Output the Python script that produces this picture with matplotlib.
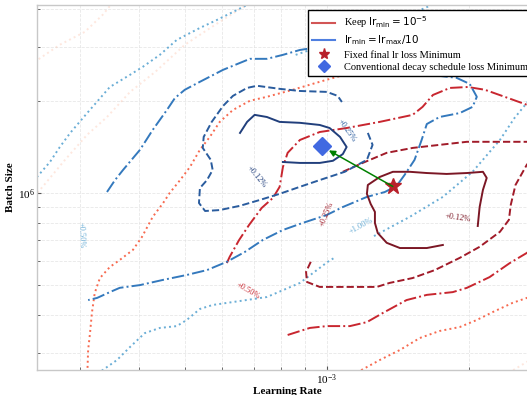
import numpy as np
import matplotlib
matplotlib.use("Agg")
import matplotlib.pyplot as plt
from matplotlib.lines import Line2D
from matplotlib.ticker import LogLocator, NullFormatter

plt.rcParams['font.family'] = ['Liberation Serif', 'DejaVu Serif']
plt.rcParams['mathtext.fontset'] = 'dejavusans'

# Iso-loss contour paths, stored as (log10 lr, log10 batch size)
# lr_min = lr_max/10 schedule (blue)
blue_012_lr = [-3.184, -3.169, -3.153, -3.127, -3.100, -3.057, -3.015, -2.994, -2.972, -2.958, -2.966, -2.987, -3.015, -3.057, -3.093]
blue_012_bs = [6.196, 6.232, 6.255, 6.248, 6.232, 6.229, 6.222, 6.212, 6.183, 6.150, 6.127, 6.105, 6.098, 6.098, 6.101]

blue_025_lr = [-2.913, -2.903, -2.915, -2.962, -3.015, -3.057, -3.100, -3.142, -3.184, -3.227, -3.258, -3.271, -3.269, -3.254,
               -3.242, -3.246, -3.263, -3.261, -3.244, -3.220, -3.199, -3.169, -3.148, -3.100, -3.057, -3.000, -2.977, -2.968]
blue_025_bs = [6.196, 6.157, 6.108, 6.069, 6.042, 6.020, 5.997, 5.977, 5.958, 5.944, 5.941, 5.967, 6.016, 6.042,
               6.075, 6.108, 6.147, 6.183, 6.232, 6.284, 6.317, 6.343, 6.350, 6.340, 6.333, 6.330, 6.317, 6.297]

blue_050_lr = [-3.466, -3.449, -3.432, -3.396, -3.369, -3.339, -3.322, -3.301, -3.269, -3.220, -3.163, -3.127, -3.093, -3.057,
               -3.015, -2.930, -2.845, -2.782, -2.725, -2.697, -2.682, -2.691, -2.718, -2.761, -2.788, -2.799, -2.814, -2.835,
               -2.852, -2.877, -2.915, -2.966, -3.000, -3.051, -3.093, -3.136, -3.174, -3.212, -3.254, -3.297, -3.347, -3.396,
               -3.439, -3.460, -3.487, -3.506]
blue_050_bs = [6.003, 6.042, 6.075, 6.141, 6.206, 6.271, 6.310, 6.337, 6.363, 6.402, 6.438, 6.438, 6.451, 6.467,
               6.477, 6.451, 6.408, 6.386, 6.376, 6.356, 6.314, 6.281, 6.261, 6.248, 6.225, 6.173, 6.108, 6.059,
               6.023, 6.003, 5.987, 5.954, 5.928, 5.902, 5.879, 5.846, 5.807, 5.775, 5.748, 5.732, 5.716, 5.699,
               5.690, 5.676, 5.657, 5.650]

blue_100a_lr = [-3.629, -3.587, -3.566, -3.544, -3.508, -3.460, -3.417, -3.390, -3.354, -3.318, -3.269, -3.233, -3.169, -3.138]
blue_100a_bs = [6.026, 6.101, 6.150, 6.196, 6.261, 6.346, 6.386, 6.412, 6.451, 6.500, 6.539, 6.565, 6.614, 6.641]
blue_100b_lr = [-3.066, -2.972, -2.888, -2.824, -2.778, -2.750]
blue_100b_bs = [6.451, 6.500, 6.546, 6.582, 6.614, 6.637]
blue_100c_lr = [-3.492, -3.481, -3.445, -3.417, -3.386, -3.354, -3.318, -3.297, -3.269, -3.242, -3.184, -3.127, -3.057, -2.998, -2.981]
blue_100c_bs = [5.395, 5.415, 5.454, 5.497, 5.542, 5.559, 5.565, 5.585, 5.621, 5.634, 5.647, 5.660, 5.706, 5.775, 5.791]
blue_100d_lr = [-2.900, -2.888, -2.824, -2.754, -2.691, -2.633, -2.602, -2.576, -2.538]
blue_100d_bs = [5.859, 5.869, 5.922, 5.987, 6.069, 6.173, 6.245, 6.294, 6.363]

# Keep lr_min = 1e-5 schedule (red)
red_012_lr = [-2.680, -2.676, -2.669, -2.661, -2.669, -2.703, -2.746, -2.788, -2.824, -2.860, -2.888, -2.913, -2.915, -2.907,
              -2.898, -2.898, -2.892, -2.873, -2.845, -2.788, -2.754]
red_012_bs = [5.892, 5.954, 6.010, 6.049, 6.069, 6.065, 6.062, 6.065, 6.069, 6.069, 6.052, 6.026, 5.997, 5.964,
              5.938, 5.902, 5.869, 5.837, 5.820, 5.820, 5.830]

red_025a_lr = [-2.966, -2.924, -2.873, -2.818, -2.761, -2.703, -2.648, -2.538]
red_025a_bs = [6.069, 6.098, 6.131, 6.147, 6.157, 6.167, 6.167, 6.167]
red_025b_lr = [-3.034, -3.044, -3.042, -3.015, -2.951, -2.894, -2.867, -2.818, -2.771, -2.718, -2.676, -2.633, -2.614,
               -2.610, -2.600, -2.576, -2.549]
red_025b_bs = [5.775, 5.742, 5.709, 5.693, 5.693, 5.693, 5.706, 5.722, 5.748, 5.788, 5.824, 5.873, 5.912,
               5.961, 6.026, 6.092, 6.141]

red_050a_lr = [-3.212, -3.206, -3.186, -3.165, -3.138, -3.114, -3.100, -3.093, -3.083, -3.057, -3.015, -2.958, -2.888,
               -2.818, -2.797, -2.775, -2.739, -2.701, -2.665, -2.623, -2.576, -2.538]
red_050a_bs = [5.771, 5.791, 5.846, 5.895, 5.951, 5.984, 6.020, 6.085, 6.131, 6.173, 6.199, 6.212, 6.232,
               6.255, 6.281, 6.320, 6.343, 6.346, 6.337, 6.314, 6.288, 6.261]
red_050b_lr = [-3.083, -3.036, -3.000, -2.951, -2.915, -2.881, -2.831, -2.788, -2.733, -2.703, -2.655, -2.612, -2.576, -2.538]
red_050b_bs = [5.536, 5.559, 5.565, 5.565, 5.578, 5.608, 5.650, 5.667, 5.676, 5.690, 5.725, 5.771, 5.804, 5.846]

red_100a_lr = [-3.508, -3.506, -3.502, -3.498, -3.492, -3.481, -3.460, -3.439, -3.411, -3.392, -3.369, -3.347, -3.333,
               -3.311, -3.290, -3.269, -3.248, -3.227, -3.199, -3.163, -3.127, -3.072, -3.015, -2.972, -2.909]
red_100a_bs = [5.395, 5.487, 5.542, 5.608, 5.673, 5.722, 5.758, 5.781, 5.814, 5.856, 5.922, 5.967, 6.000,
               6.042, 6.085, 6.141, 6.183, 6.232, 6.271, 6.301, 6.314, 6.337, 6.363, 6.382, 6.415]
red_100b_lr = [-2.941, -2.926, -2.888, -2.845, -2.803, -2.761, -2.718, -2.682, -2.648, -2.606, -2.576, -2.538]
red_100b_bs = [5.395, 5.422, 5.454, 5.487, 5.526, 5.549, 5.562, 5.585, 5.611, 5.641, 5.657, 5.676]

red_200a_lr = [-3.629, -3.566, -3.513, -3.475, -3.449]
red_200a_bs = [6.418, 6.484, 6.526, 6.582, 6.631]
red_200b_lr = [-3.629, -3.608, -3.555, -3.508, -3.466, -3.417, -3.364, -3.301, -3.237, -3.163]
red_200b_bs = [5.977, 6.010, 6.108, 6.190, 6.248, 6.330, 6.395, 6.484, 6.549, 6.621]
red_200c_lr = [-2.633, -2.576, -2.538]
red_200c_bs = [5.395, 5.448, 5.480]

# Loss minima
star_lr, star_bs = 1.38e-3, 1.05e6
diamond_lr, diamond_bs = 9.75e-4, 1.42e6

blues = {'012': '#213f7c', '025': '#2a5c9e', '050': '#3479bd', '100': '#6baed6'}
reds = {'012': '#7b1725', '025': '#a11b29', '050': '#c8262f', '100': '#f76a50', '200': '#fcbba1'}

fig = plt.figure(figsize=(5.27, 3.95), dpi=100)
ax = fig.add_axes([37 / 527, 25 / 395, 500 / 527, 365 / 395])
ax.set_xscale('log')
ax.set_yscale('log')


def draw(lr, bs, color, ls, alpha=1.0, lw=1.4):
    ax.plot(10 ** np.array(lr), 10 ** np.array(bs), color=color, ls=ls, lw=lw, alpha=alpha)


draw(red_200a_lr, red_200a_bs, reds['200'], ':', alpha=0.35)
draw(red_200b_lr, red_200b_bs, reds['200'], ':', alpha=0.35)
draw(red_200c_lr, red_200c_bs, reds['200'], ':', alpha=0.35)

draw(red_100a_lr, red_100a_bs, reds['100'], ':')
draw(red_100b_lr, red_100b_bs, reds['100'], ':')
draw(blue_100a_lr, blue_100a_bs, blues['100'], ':')
draw(blue_100b_lr, blue_100b_bs, blues['100'], ':')
draw(blue_100c_lr, blue_100c_bs, blues['100'], ':')
draw(blue_100d_lr, blue_100d_bs, blues['100'], ':')

draw(red_050a_lr, red_050a_bs, reds['050'], '-.')
draw(red_050b_lr, red_050b_bs, reds['050'], '-.')
draw(blue_050_lr, blue_050_bs, blues['050'], '-.')

draw(red_025a_lr, red_025a_bs, reds['025'], '--')
draw(red_025b_lr, red_025b_bs, reds['025'], '--')
draw(blue_025_lr, blue_025_bs, blues['025'], '--')

draw(red_012_lr, red_012_bs, reds['012'], '-')
draw(blue_012_lr, blue_012_bs, blues['012'], '-')


# inline contour labels
def clabel(lr, bs, text, color, rot):
    ax.text(lr, bs, text, color=color, fontsize=6, rotation=rot,
            ha='center', va='center', rotation_mode='anchor')


clabel(7.10e-4, 1.13e6, '+0.12%', blues['012'], -50)
clabel(1.10e-3, 1.60e6, '+0.25%', blues['025'], -55)
clabel(3.02e-4, 7.3e5, '+0.50%', blues['100'], -88)
clabel(1.18e-3, 7.8e5, '+1.00%', blues['100'], 29)
clabel(1.90e-3, 8.3e5, '+0.12%', reds['012'], -8)
clabel(1.00e-3, 8.5e5, '+0.25%', reds['025'], 68)
clabel(6.8e-4, 4.8e5, '+0.50%', reds['050'], -30)

ax.plot(star_lr, star_bs, marker='*', color='#b8202a', ms=12, ls='none', zorder=5)
ax.plot(diamond_lr, diamond_bs, marker='D', color='royalblue', ms=9, ls='none', zorder=5)
ax.annotate('', xy=(diamond_lr, diamond_bs), xytext=(star_lr, star_bs),
            arrowprops=dict(arrowstyle='-|>', color='green', lw=1.1, shrinkA=0, shrinkB=6,
                            mutation_scale=9), zorder=6)

ax.set_xlim(2.43e-4, 2.79e-3)
ax.set_ylim(2.64e5, 4.11e6)
ax.xaxis.set_minor_formatter(NullFormatter())
ax.yaxis.set_minor_formatter(NullFormatter())
ax.xaxis.set_minor_locator(LogLocator(base=10, subs=np.arange(2, 10)))
ax.yaxis.set_minor_locator(LogLocator(base=10, subs=np.arange(2, 10)))
ax.grid(True, which='both', color='#e2e2e2', ls='--', lw=0.6, alpha=0.8)
ax.tick_params(which='both', direction='in', colors='#555555', labelcolor='black', labelsize=8, pad=1.5)
ax.tick_params(which='major', length=3)
ax.tick_params(which='minor', length=2)
for s in ax.spines.values():
    s.set_color('#c8c8c8')
    s.set_linewidth(1.0)

ax.set_xlabel('Learning Rate', fontsize=8, fontweight='bold', labelpad=0)
ax.set_ylabel('Batch Size', fontsize=8, fontweight='bold', labelpad=2)

handles = [
    Line2D([], [], color='#d25555', lw=1.5),
    Line2D([], [], color='#4f7fe0', lw=1.5),
    Line2D([], [], color='#b8202a', marker='*', ls='none', ms=8),
    Line2D([], [], color='royalblue', marker='D', ls='none', ms=6),
]
labels = [
    r'Keep $\mathrm{lr}_{\mathrm{min}}=10^{-5}$',
    r'$\mathrm{lr}_{\mathrm{min}}=\mathrm{lr}_{\mathrm{max}}/10$',
    'Fixed final lr loss Minimum',
    'Conventional decay schedule loss Minimum',
]
leg = ax.legend(handles, labels, loc='upper right', fontsize=7.5, fancybox=False,
                framealpha=1, edgecolor='black', borderpad=0.4, labelspacing=0.3,
                handlelength=2.2)
leg.get_frame().set_linewidth(1.0)

fig.savefig('out.png', dpi=100)
